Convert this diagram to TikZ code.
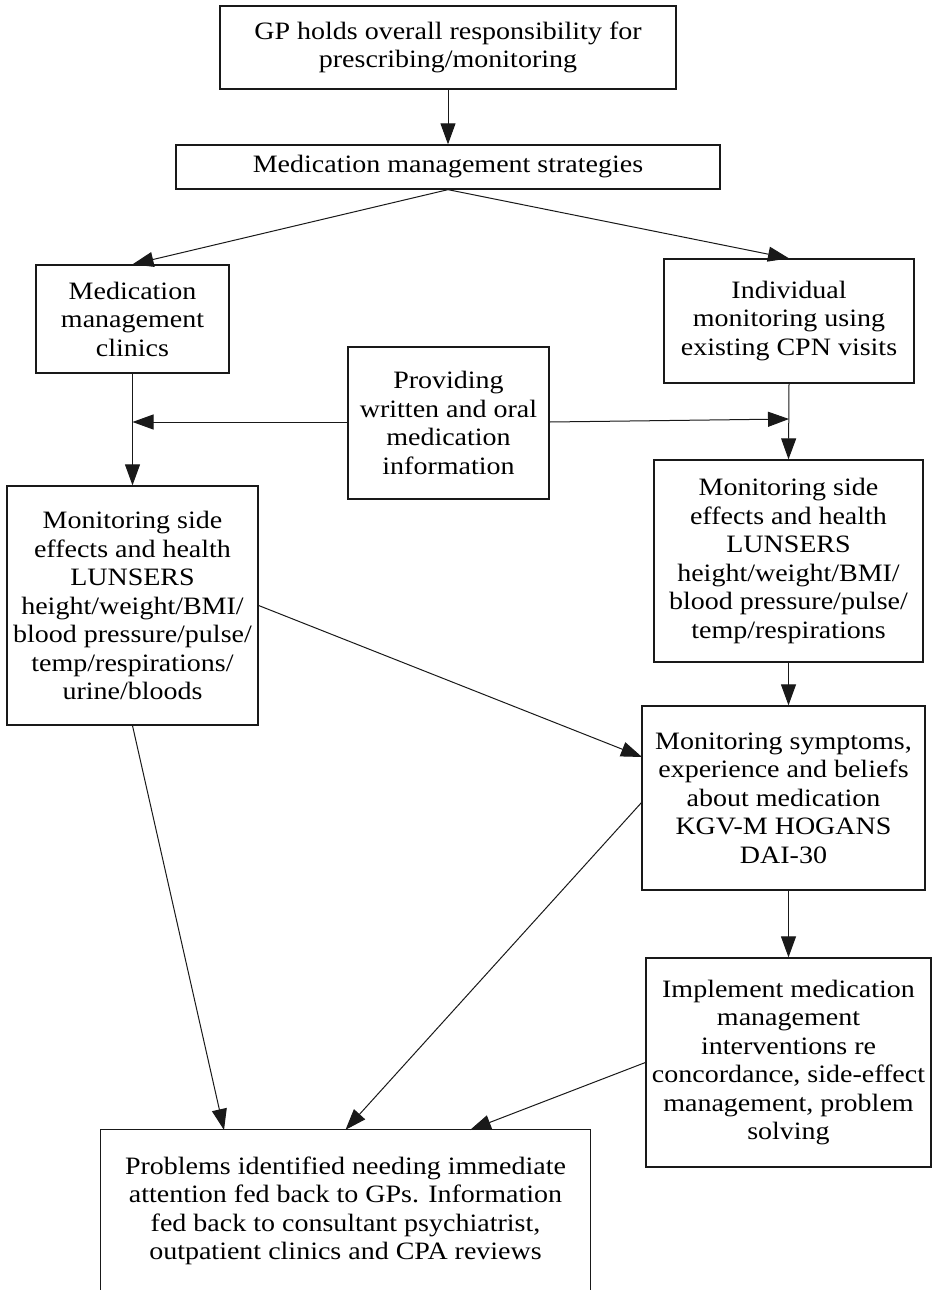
\documentclass[tikz,border=0pt]{standalone}
\usepackage{fontspec}
\setmainfont{Liberation Serif}[FakeStretch=1.12]
\usetikzlibrary{arrows.meta,calc}
\tikzset{
  box/.style={draw=black!90, line width=1.3pt, inner sep=0pt, align=center,
    font=\fontsize{25}{28.5}\selectfont},
  openbox/.style={inner sep=0pt, align=center, font=\fontsize{25}{28.5}\selectfont},
  arr/.style={draw=black!90, line width=1pt, -{Triangle[length=21pt,width=15pt]}},
  plain/.style={draw=black!90, line width=1pt}
}
\begin{document}
\begin{tikzpicture}[x={(1pt,0)}, y={(0,-1pt)}]
\useasboundingbox[fill=white] (0,0) rectangle (935,1290);

\node[box, minimum width=456pt, minimum height=83pt] (b1) at (448,47.5)
  {GP holds overall responsibility for\\prescribing/monitoring};
\node[box, minimum width=544pt, minimum height=44pt] (b2) at (448,167)
  {Medication management strategies};
\node[box, minimum width=193pt, minimum height=108pt] (b3) at (132.5,319)
  {Medication\\management\\clinics};
\node[box, minimum width=250pt, minimum height=124pt] (b4) at (789,321)
  {Individual\\monitoring using\\existing CPN visits};
\node[box, minimum width=201pt, minimum height=152pt] (b5) at (448.5,423)
  {Providing\\written and oral\\medication\\information};
\node[box, minimum width=251pt, minimum height=239pt] (b6) at (132.5,605.5)
  {Monitoring side\\effects and health\\LUNSERS\\height/weight/BMI/\\blood pressure/pulse/\\temp/respirations/\\urine/bloods};
\node[box, minimum width=269pt, minimum height=202pt] (b7) at (788.5,561)
  {Monitoring side\\effects and health\\LUNSERS\\height/weight/BMI/\\blood pressure/pulse/\\temp/respirations};
\node[box, minimum width=283pt, minimum height=184pt] (b8) at (783.5,798)
  {Monitoring symptoms,\\experience and beliefs\\about medication\\KGV-M HOGANS\\DAI-30};
\node[box, minimum width=285pt, minimum height=209pt] (b9) at (788.5,1062.5)
  {Implement medication\\management\\interventions re\\concordance, side-effect\\management, problem\\solving};
\node[openbox, minimum width=489pt, minimum height=162pt] (b10) at (345.5,1211)
  {Problems identified needing immediate\\attention fed back to GPs. Information\\fed back to consultant psychiatrist,\\outpatient clinics and CPA reviews};
\draw[draw=black!90, line width=1.3pt] (b10.south west) -- (b10.north west) -- (b10.north east) -- (b10.south east);

\coordinate (jl) at (132.5,422);
\coordinate (jr) at (789,419);
\coordinate (t9) at (642,757);
\coordinate (s11) at (642,802);
\coordinate (t10) at (224,1130);
\coordinate (t12) at (470,1130);

\draw[arr] (b1.south) -- (b2.north);
\draw[arr] (b2.south) -- (b3.north);
\draw[arr] (b2.south) -- (b4.north);
\draw[arr] (b3.south) -- (b6.north);
\draw[arr] (b4.south) -- (b7.north);
\draw[arr] (b5.west |- jl) -- (jl);
\draw[arr] (b5.east |- jl) -- (jr);
\draw[arr] (b7.south) -- (b7.south |- b8.north);
\draw[arr] (b6.east) -- (t9);
\draw[arr] (b8.south -| b7.south) -- (b7.south |- b9.north);
\draw[arr] (b6.south) -- (t10);
\draw[arr] (s11) -- (b10.north);
\draw[arr] (b9.west) -- (t12);
\end{tikzpicture}
\end{document}
